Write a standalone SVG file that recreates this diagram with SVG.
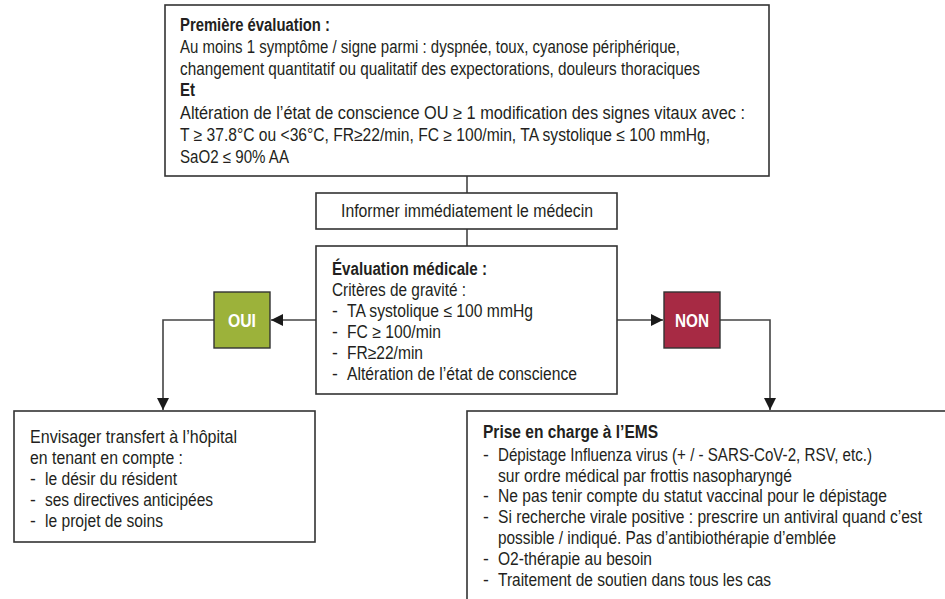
<svg xmlns="http://www.w3.org/2000/svg" width="945" height="599" viewBox="0 0 945 599">
<defs>
<marker id="ah" viewBox="0 0 12 12" refX="12" refY="6" markerWidth="12" markerHeight="12" markerUnits="userSpaceOnUse" orient="auto">
<path d="M0,0 L12,6 L0,12 Z" fill="#1a1a1a"/>
</marker>
<style>
.box{fill:#fff;stroke:#333;stroke-width:1.6}
.t{font-family:"Liberation Sans",Arial,sans-serif;font-size:17.5px;fill:#231f20}
.b{font-weight:bold}
.lbl{font-family:"Liberation Sans",Arial,sans-serif;font-size:18px;font-weight:bold;fill:#fff;text-anchor:middle}
.c{fill:none;stroke:#444;stroke-width:1.6}
</style>
</defs>
<rect width="945" height="599" fill="#fff"/>
<g id="connectors">
<line class="c" x1="467" y1="176" x2="467" y2="193"/>
<line class="c" x1="467" y1="229" x2="467" y2="246"/>
<line class="c" x1="316" y1="320" x2="271" y2="320" marker-end="url(#ah)"/>
<polyline class="c" points="214,320 163,320 163,410" marker-end="url(#ah)"/>
<line class="c" x1="617" y1="320" x2="663" y2="320" marker-end="url(#ah)"/>
<polyline class="c" points="720,320 770,320 770,410" marker-end="url(#ah)"/>
</g>
<g id="premiere">
<rect class="box" x="165" y="5" width="604" height="171"/>
<text class="t b" x="180" y="31" textLength="150" lengthAdjust="spacingAndGlyphs">Première évaluation :</text>
<text class="t" x="180" y="53" textLength="500" lengthAdjust="spacingAndGlyphs">Au moins 1 symptôme / signe parmi : dyspnée, toux, cyanose périphérique,</text>
<text class="t" x="180" y="75" textLength="520" lengthAdjust="spacingAndGlyphs">changement quantitatif ou qualitatif des expectorations, douleurs thoraciques</text>
<text class="t b" x="180" y="96" textLength="15" lengthAdjust="spacingAndGlyphs">Et</text>
<text class="t" x="180" y="119" textLength="565" lengthAdjust="spacingAndGlyphs">Altération de l’état de conscience OU ≥ 1 modification des signes vitaux avec :</text>
<text class="t" x="180" y="141" textLength="530" lengthAdjust="spacingAndGlyphs">T ≥ 37.8°C ou &lt;36°C, FR≥22/min, FC ≥ 100/min, TA systolique ≤ 100 mmHg,</text>
<text class="t" x="180" y="163" textLength="109" lengthAdjust="spacingAndGlyphs">SaO2 ≤ 90% AA</text>
</g>
<g id="informer">
<rect class="box" x="316" y="193" width="301" height="36"/>
<text class="t" x="341" y="217" textLength="252" lengthAdjust="spacingAndGlyphs">Informer immédiatement le médecin</text>
</g>
<g id="evaluation">
<rect class="box" x="316" y="246" width="301" height="148"/>
<text class="t b" x="332" y="275" textLength="155" lengthAdjust="spacingAndGlyphs">Évaluation médicale :</text>
<text class="t" x="332" y="296" textLength="134" lengthAdjust="spacingAndGlyphs">Critères de gravité :</text>
<text class="t" x="332" y="317">-</text><text class="t" x="347" y="317" textLength="186" lengthAdjust="spacingAndGlyphs">TA systolique ≤ 100 mmHg</text>
<text class="t" x="332" y="338">-</text><text class="t" x="347" y="338" textLength="94" lengthAdjust="spacingAndGlyphs">FC ≥ 100/min</text>
<text class="t" x="332" y="359">-</text><text class="t" x="347" y="359" textLength="76" lengthAdjust="spacingAndGlyphs">FR≥22/min</text>
<text class="t" x="332" y="380">-</text><text class="t" x="347" y="380" textLength="230" lengthAdjust="spacingAndGlyphs">Altération de l’état de conscience</text>
</g>
<g id="oui">
<rect x="214" y="292" width="56" height="56" fill="#9cb23a" stroke="#333" stroke-width="1.4"/>
<text class="lbl" x="242" y="327" textLength="28" lengthAdjust="spacingAndGlyphs">OUI</text>
</g>
<g id="non">
<rect x="664" y="292" width="56" height="56" fill="#a72a44" stroke="#333" stroke-width="1.4"/>
<text class="lbl" x="692" y="327" textLength="34" lengthAdjust="spacingAndGlyphs">NON</text>
</g>
<g id="envisager">
<rect class="box" x="14" y="411" width="301" height="131"/>
<text class="t" x="30" y="443" textLength="207" lengthAdjust="spacingAndGlyphs">Envisager transfert à l’hôpital</text>
<text class="t" x="30" y="464" textLength="153" lengthAdjust="spacingAndGlyphs">en tenant en compte :</text>
<text class="t" x="30" y="485">-</text><text class="t" x="45" y="485" textLength="132" lengthAdjust="spacingAndGlyphs">le désir du résident</text>
<text class="t" x="30" y="506">-</text><text class="t" x="45" y="506" textLength="168" lengthAdjust="spacingAndGlyphs">ses directives anticipées</text>
<text class="t" x="30" y="527">-</text><text class="t" x="45" y="527" textLength="118" lengthAdjust="spacingAndGlyphs">le projet de soins</text>
</g>
<g id="prise">
<rect class="box" x="467" y="411" width="490" height="200"/>
<text class="t b" x="483" y="438" textLength="175" lengthAdjust="spacingAndGlyphs">Prise en charge à l’EMS</text>
<text class="t" x="483" y="461">-</text><text class="t" x="498" y="461" textLength="374" lengthAdjust="spacingAndGlyphs">Dépistage Influenza virus (+ / - SARS-CoV-2, RSV, etc.)</text>
<text class="t" x="498" y="482" textLength="294" lengthAdjust="spacingAndGlyphs">sur ordre médical par frottis nasopharyngé</text>
<text class="t" x="483" y="502">-</text><text class="t" x="498" y="502" textLength="389" lengthAdjust="spacingAndGlyphs">Ne pas tenir compte du statut vaccinal pour le dépistage</text>
<text class="t" x="483" y="523">-</text><text class="t" x="498" y="523" textLength="424" lengthAdjust="spacingAndGlyphs">Si recherche virale positive : prescrire un antiviral quand c’est</text>
<text class="t" x="498" y="544" textLength="338" lengthAdjust="spacingAndGlyphs">possible / indiqué. Pas d’antibiothérapie d’emblée</text>
<text class="t" x="483" y="565">-</text><text class="t" x="498" y="565" textLength="154" lengthAdjust="spacingAndGlyphs">O2-thérapie au besoin</text>
<text class="t" x="483" y="586">-</text><text class="t" x="498" y="586" textLength="273" lengthAdjust="spacingAndGlyphs">Traitement de soutien dans tous les cas</text>
</g>
</svg>
